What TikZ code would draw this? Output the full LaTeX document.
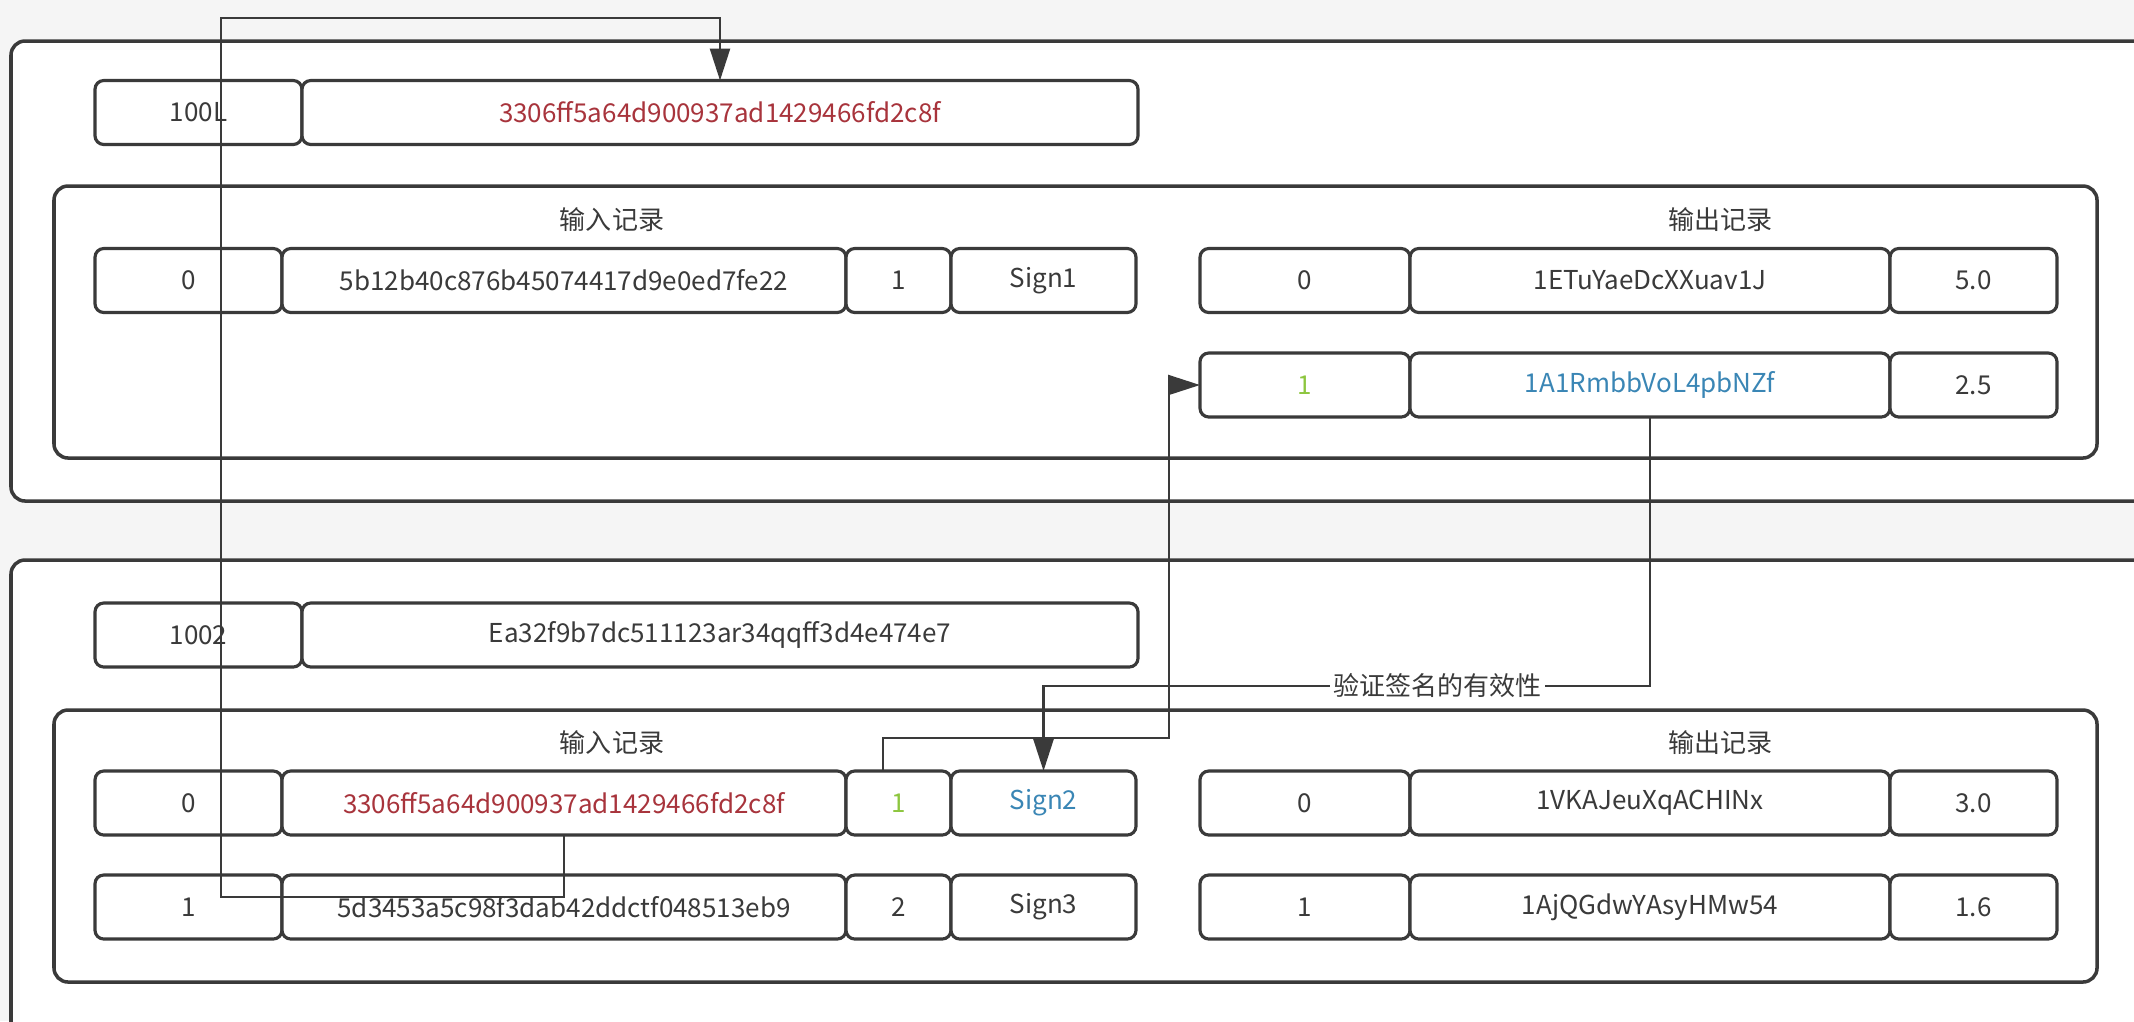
\documentclass[tikz,border=0pt]{standalone}
\usepackage{fontspec}
\setmainfont{Noto Sans CJK SC}
\usetikzlibrary{arrows.meta, positioning}
\definecolor{ink}{HTML}{3A3A3A}
\definecolor{hashred}{HTML}{A8343C}
\definecolor{idxgreen}{HTML}{8DC63F}
\definecolor{addrblue}{HTML}{3A86B5}

\begin{document}
\begin{tikzpicture}[
    y=-1cm,
    node distance=0pt,
    font=\fontsize{7.4}{9}\selectfont,
    text=ink,
    cell/.style={draw=ink, line width=0.9pt, rounded corners=2.5pt, fill=white, minimum height=0.64cm, inner sep=0pt, outer sep=0pt},
    frame/.style={draw=ink, line width=1pt, rounded corners=4pt, fill=white},
    link/.style={draw=ink, line width=0.7pt, -{Triangle[length=0.32cm, width=0.2cm]}},
    tag/.style={fill=white, inner sep=1pt}
  ]
    \clip (0,0) rectangle (21.34,10.21);
    \fill[black!4] (0,0) rectangle (21.34,10.21);

    % block 1001
    \draw[frame] (0.11,0.41) rectangle (21.6,5.01);
    \node[cell, minimum width=2.07cm, anchor=west] (b1id) at (0.95,1.125) {100L};
    \node[cell, minimum width=8.36cm, right=of b1id, text=hashred] (b1hash) {3306ff5a64d900937ad1429466fd2c8f};
    \draw[frame] (0.54,1.86) rectangle (20.97,4.58);
    \node (b1inlbl) at (6.12,2.20) {输入记录};
    \node (b1outlbl) at (17.2,2.20) {输出记录};

    \node[cell, minimum width=1.87cm, anchor=west] (b1in0id) at (0.95,2.805) {0};
    \node[cell, minimum width=5.64cm, right=of b1in0id] (b1in0hash) {5b12b40c876b45074417d9e0ed7fe22};
    \node[cell, minimum width=1.05cm, right=of b1in0hash] (b1in0out) {1};
    \node[cell, minimum width=1.85cm, right=of b1in0out] (b1in0sign) {Sign1};

    \node[cell, minimum width=2.10cm, anchor=west] (b1out0id) at (12.00,2.805) {0};
    \node[cell, minimum width=4.80cm, right=of b1out0id] (b1out0addr) {1ETuYaeDcXXuav1J};
    \node[cell, minimum width=1.67cm, right=of b1out0addr] (b1out0val) {5.0};

    \node[cell, minimum width=2.10cm, anchor=west, text=idxgreen] (b1out1id) at (12.00,3.85) {1};
    \node[cell, minimum width=4.80cm, right=of b1out1id, text=addrblue] (b1out1addr) {1A1RmbbVoL4pbNZf};
    \node[cell, minimum width=1.67cm, right=of b1out1addr] (b1out1val) {2.5};

    % block 1002
    \draw[frame] (0.11,5.60) rectangle (21.6,10.5);
    \node[cell, minimum width=2.07cm, anchor=west] (b2id) at (0.95,6.35) {1002};
    \node[cell, minimum width=8.36cm, right=of b2id] (b2hash) {Ea32f9b7dc511123ar34qqff3d4e474e7};
    \draw[frame] (0.54,7.10) rectangle (20.97,9.82);
    \node (b2inlbl) at (6.12,7.43) {输入记录};
    \node (b2outlbl) at (17.2,7.43) {输出记录};

    \node[cell, minimum width=1.87cm, anchor=west] (b2in0id) at (0.95,8.03) {0};
    \node[cell, minimum width=5.64cm, right=of b2in0id, text=hashred] (b2in0hash) {3306ff5a64d900937ad1429466fd2c8f};
    \node[cell, minimum width=1.05cm, right=of b2in0hash, text=idxgreen] (b2in0out) {1};
    \node[cell, minimum width=1.85cm, right=of b2in0out, text=addrblue] (b2in0sign) {Sign2};

    \node[cell, minimum width=1.87cm, anchor=west] (b2in1id) at (0.95,9.07) {1};
    \node[cell, minimum width=5.64cm, right=of b2in1id] (b2in1hash) {5d3453a5c98f3dab42ddctf048513eb9};
    \node[cell, minimum width=1.05cm, right=of b2in1hash] (b2in1out) {2};
    \node[cell, minimum width=1.85cm, right=of b2in1out] (b2in1sign) {Sign3};

    \node[cell, minimum width=2.10cm, anchor=west] (b2out0id) at (12.00,8.03) {0};
    \node[cell, minimum width=4.80cm, right=of b2out0id] (b2out0addr) {1VKAJeuXqACHINx};
    \node[cell, minimum width=1.67cm, right=of b2out0addr] (b2out0val) {3.0};

    \node[cell, minimum width=2.10cm, anchor=west] (b2out1id) at (12.00,9.07) {1};
    \node[cell, minimum width=4.80cm, right=of b2out1id] (b2out1addr) {1AjQGdwYAsyHMw54};
    \node[cell, minimum width=1.67cm, right=of b2out1addr] (b2out1val) {1.6};

    % links
    \coordinate (c1low) at (2.21,8.97);
    \coordinate (c1top) at (2.21,0.18);
    \draw[link] (b2in0hash.south) |- (c1low) -- (c1top) -| (b1hash.north);

    \coordinate (c2a) at (8.83,7.38);
    \coordinate (c2b) at (11.69,7.38);
    \draw[link] (b2in0out.north -| c2a) -- (c2a) -- (c2b) |- (b1out1id.west);

    \coordinate (c3a) at (b1out1addr.south |- 0,6.86);
    \coordinate (c3b) at (c3a -| b2in0sign.north);
    \draw[link] (b1out1addr.south) -- (c3a) -- node[tag, pos=0.35] {验证签名的有效性} (c3b) -- (b2in0sign.north);
  \end{tikzpicture}
\end{document}
